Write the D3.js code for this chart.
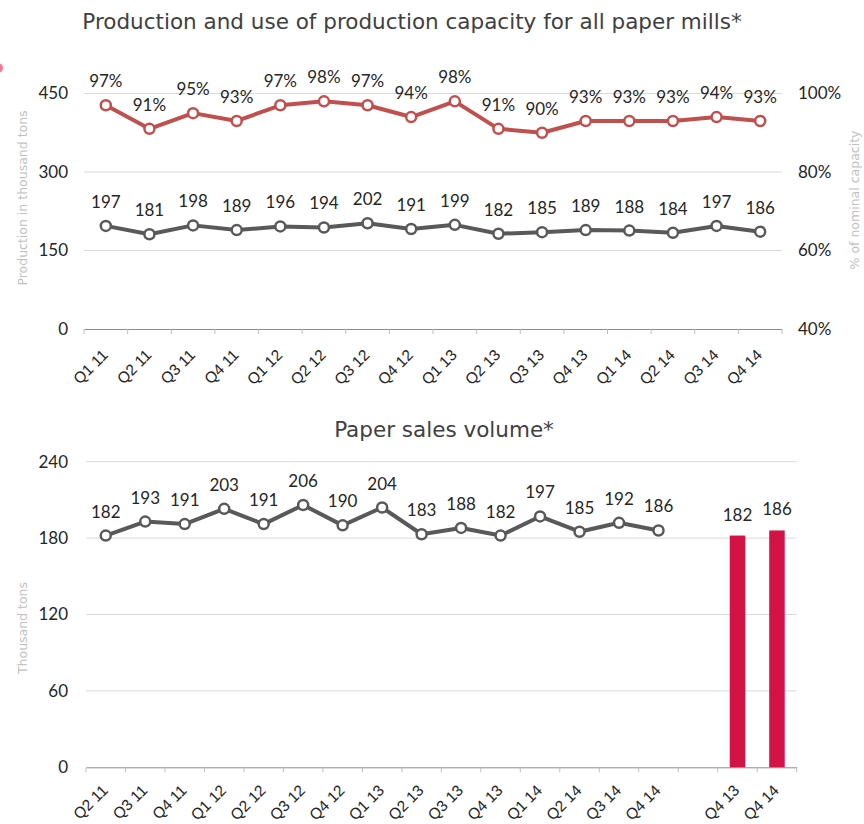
<!DOCTYPE html>
<html><head><meta charset="utf-8">
<script src="https://cdn.jsdelivr.net/npm/d3@7"></script>
<style>
body{margin:0;background:#fff;}
svg{display:block;font-family:Lato,"Open Sans",sans-serif;}
</style></head>
<body>
<svg id="c" width="864" height="824"></svg>
<script>
// ---------- data ----------
const topQuarters = ["Q1 11","Q2 11","Q3 11","Q4 11","Q1 12","Q2 12","Q3 12","Q4 12","Q1 13","Q2 13","Q3 13","Q4 13","Q1 14","Q2 14","Q3 14","Q4 14"];
const capacityPct = [97,91,95,93,97,98,97,94,98,91,90,93,93,93,94,93];
const production = [197,181,198,189,196,194,202,191,199,182,185,189,188,184,197,186];
const leftTicks = [0,150,300,450];
const rightTicks = [40,60,80,100];

const salesQuarters = ["Q2 11","Q3 11","Q4 11","Q1 12","Q2 12","Q3 12","Q4 12","Q1 13","Q2 13","Q3 13","Q4 13","Q1 14","Q2 14","Q3 14","Q4 14"];
const salesVolume = [182,193,191,203,191,206,190,204,183,188,182,197,185,192,186];
const barQuarters = ["Q4 13 ","Q4 14 "];
const barValues = [182,186];
const salesTicks = [0,60,120,180,240];

const svg = d3.select("#c");
const gridColor = "#d9d9d9", axisColor = "#8c8c8c", textColor = "#262626", titleColor = "#404040";
const lineDark = "#595959", lineRed = "#c0504d", barColor = "#d31245";
const dv = "'DejaVu Sans',Verdana,sans-serif";
const ls = "'Liberation Sans',Arial,sans-serif";

// ---------- top chart ----------
const T = {l:84, r:782, t:93.5, b:329};
const xT = d3.scaleBand().domain(topQuarters).range([T.l, T.r]);
const yL = d3.scaleLinear().domain([0,450]).range([T.b, T.t]);
const yR = d3.scaleLinear().domain([40,100]).range([T.b, T.t]);

svg.append("text").attr("x", 412).attr("y", 29).attr("text-anchor","middle")
  .attr("font-size", 21.5).attr("fill", titleColor).attr("font-family",dv)
  .text("Production and use of production capacity for all paper mills*");

svg.append("circle").attr("cx",-2).attr("cy",68).attr("r",5).attr("fill","#f27a95");

svg.append("g").selectAll("line").data(leftTicks.filter(d=>d>0)).join("line")
  .attr("x1",T.l).attr("x2",T.r).attr("y1",d=>yL(d)).attr("y2",d=>yL(d))
  .attr("stroke",gridColor).attr("stroke-width",1);

const axT = svg.append("g").attr("transform",`translate(0,${T.b})`)
  .call(d3.axisBottom(xT).tickSize(0).tickFormat(""));
axT.select(".domain").attr("stroke",axisColor);
const bT = [...topQuarters.map(q=>xT(q)), T.r];
svg.append("g").selectAll("line").data(bT).join("line")
  .attr("x1",d=>d).attr("x2",d=>d).attr("y1",T.b).attr("y2",T.b+5)
  .attr("stroke","#bfbfbf");
svg.append("g").selectAll("text").data(topQuarters).join("text")
  .attr("transform",d=>`translate(${xT(d)+xT.bandwidth()/2+3},${T.b+27}) rotate(-45)`)
  .attr("text-anchor","end").attr("font-size",15.5).attr("fill",textColor)
  .attr("font-family",ls).text(d=>d);

const ayL = svg.append("g").attr("transform",`translate(${T.l},0)`)
  .call(d3.axisLeft(yL).tickValues(leftTicks).tickSize(0).tickPadding(16));
ayL.select(".domain").remove();
ayL.selectAll("text").attr("font-size",17).attr("fill",textColor).attr("font-family","Lato");

const ayR = svg.append("g").attr("transform",`translate(${T.r},0)`)
  .call(d3.axisRight(yR).tickValues(rightTicks).tickSize(0).tickPadding(16).tickFormat(d=>d+"%"));
ayR.select(".domain").remove();
ayR.selectAll("text").attr("font-size",17).attr("fill",textColor).attr("font-family","Lato");

svg.append("text").attr("transform",`translate(27,198) rotate(-90)`)
  .attr("text-anchor","middle").attr("font-size",12.5).attr("fill","#bfbfbf").attr("font-family",dv)
  .text("Production in thousand tons");
svg.append("text").attr("transform",`translate(859,200) rotate(-90)`)
  .attr("text-anchor","middle").attr("font-size",12.5).attr("fill","#bfbfbf").attr("font-family",dv)
  .text("% of nominal capacity");

const cx = q => xT(q)+xT.bandwidth()/2;
function series(g, cats, vals, xf, yf, color, fmt){
  const pts = cats.map((c,i)=>({c, v:vals[i]}));
  g.append("path").datum(pts)
    .attr("d", d3.line().x(d=>xf(d.c)).y(d=>yf(d.v)))
    .attr("fill","none").attr("stroke",color).attr("stroke-width",4).attr("stroke-linejoin","round");
  g.selectAll("circle.m").data(pts).join("circle")
    .attr("cx",d=>xf(d.c)).attr("cy",d=>yf(d.v)).attr("r",5)
    .attr("fill","#fff").attr("stroke",color).attr("stroke-width",2.5);
  g.selectAll("text.lbl").data(pts).join("text")
    .attr("x",d=>xf(d.c)).attr("y",d=>yf(d.v)-18).attr("text-anchor","middle")
    .attr("font-size",17).attr("fill",textColor).text(d=>fmt(d.v));
}
series(svg.append("g"), topQuarters, production, cx, yL, lineDark, d=>d);
series(svg.append("g"), topQuarters, capacityPct, cx, yR, lineRed, d=>d+"%");

// ---------- bottom chart ----------
const B = {l:86, r:796.7, t:461.7, b:767.3};
const allCats = [...salesQuarters, "", ...barQuarters];
const xB = d3.scaleBand().domain(allCats).range([B.l, B.r]);
const yB = d3.scaleLinear().domain([0,240]).range([B.b, B.t]);

svg.append("text").attr("x", 444).attr("y", 437).attr("text-anchor","middle")
  .attr("font-size", 21.5).attr("fill", titleColor).attr("font-family",dv).text("Paper sales volume*");

svg.append("g").selectAll("line").data(salesTicks.filter(d=>d>0)).join("line")
  .attr("x1",B.l).attr("x2",B.r).attr("y1",d=>yB(d)).attr("y2",d=>yB(d))
  .attr("stroke",gridColor);

const axB = svg.append("g").attr("transform",`translate(0,${B.b})`)
  .call(d3.axisBottom(xB).tickSize(0).tickFormat(""));
axB.select(".domain").attr("stroke",axisColor);
const bB = [...allCats.map(q=>xB(q)), B.r];
svg.append("g").selectAll("line").data(bB).join("line")
  .attr("x1",d=>d).attr("x2",d=>d).attr("y1",B.b).attr("y2",B.b+5).attr("stroke","#bfbfbf");
svg.append("g").selectAll("text").data(allCats.filter(d=>d!=="")).join("text")
  .attr("transform",d=>`translate(${xB(d)+xB.bandwidth()/2+3},${B.b+24}) rotate(-45)`)
  .attr("text-anchor","end").attr("font-size",15.5).attr("fill",textColor)
  .attr("font-family",ls).text(d=>d.trim());

const ayB = svg.append("g").attr("transform",`translate(${B.l},0)`)
  .call(d3.axisLeft(yB).tickValues(salesTicks).tickSize(0).tickPadding(18));
ayB.select(".domain").remove();
ayB.selectAll("text").attr("font-size",17).attr("fill",textColor).attr("font-family","Lato");

svg.append("text").attr("transform",`translate(27,628) rotate(-90)`)
  .attr("text-anchor","middle").attr("font-size",12.5).attr("fill","#bfbfbf").attr("font-family",dv).text("Thousand tons");

const cxB = q => xB(q)+xB.bandwidth()/2;
series(svg.append("g"), salesQuarters, salesVolume, cxB, yB, lineDark, d=>d);

const bw = 15.5;
const bars = barQuarters.map((c,i)=>({c, v:barValues[i]}));
svg.append("g").selectAll("rect").data(bars).join("rect")
  .attr("x",d=>cxB(d.c)-bw/2).attr("width",bw)
  .attr("y",d=>yB(d.v)).attr("height",d=>yB(0)-yB(d.v)).attr("fill",barColor);
svg.append("g").selectAll("text").data(bars).join("text")
  .attr("x",d=>cxB(d.c)).attr("y",d=>yB(d.v)-15).attr("text-anchor","middle")
  .attr("font-size",17).attr("fill",textColor).text(d=>d.v);
</script>
</body></html>
